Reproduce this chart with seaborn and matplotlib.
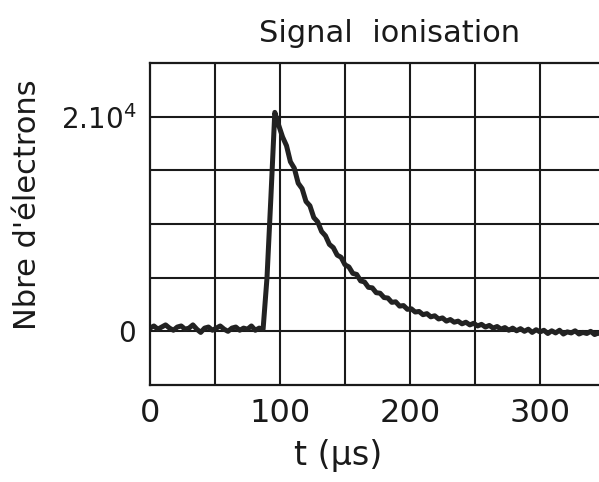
import numpy as np
import pandas as pd
import matplotlib
matplotlib.use("Agg")
import matplotlib.pyplot as plt
import seaborn as sns

# time (µs) and signal (number of electrons)
t_us = [0, 3, 6, 9, 12, 15, 18, 21, 24, 27, 30, 33, 36, 39, 42, 45, 48, 51, 54, 57,
        60, 63, 66, 69, 72, 75, 78, 81, 84, 87, 90, 93, 96, 99, 102, 105, 108, 111, 114, 117,
        120, 123, 126, 129, 132, 135, 138, 141, 144, 147, 150, 153, 156, 159, 162, 165, 168, 171, 174, 177,
        180, 183, 186, 189, 192, 195, 198, 201, 204, 207, 210, 213, 216, 219, 222, 225, 228, 231, 234, 237,
        240, 243, 246, 249, 252, 255, 258, 261, 264, 267, 270, 273, 276, 279, 282, 285, 288, 291, 294, 297,
        300, 303, 306, 309, 312, 315, 318, 321, 324, 327, 330, 333, 336, 339, 342, 345, 348]
electrons = [300, 500, 200, 400, 600, 300, 100, 400, 500, 200, 300, 600, 200, -100, 300, 400, 100, 300, 500, 200,
             0, 300, 400, 100, 300, 200, 500, 100, 300, 200, 5000, 12500, 20400, 19200, 18100, 17300, 15800, 15200, 13800, 13300,
             12100, 11700, 10600, 10200, 9300, 8900, 8100, 7800, 7100, 6900, 6200, 6000, 5400, 5300, 4700, 4600, 4100, 4050, 3600, 3550,
             3150, 3100, 2700, 2750, 2350, 2400, 2050, 2100, 1800, 1850, 1550, 1650, 1350, 1450, 1150, 1250, 950, 1100, 850, 950,
             700, 850, 600, 750, 500, 650, 400, 550, 300, 450, 200, 350, 100, 300, 50, 250, 0, 200, -100, 150,
             -50, 100, -200, 50, -150, 100, -250, -50, -150, 50, -250, -100, -200, 0, -300, -150, -250]

x_ticks = [0, 100, 200, 300]
x_ticklabels = ["0", "100", "200", "300"]
y_ticks = [0, 20000]
y_ticklabels = ["0", r"2.10$^4$"]

sns.set_style("white")
plt.rcParams['font.family'] = ['DejaVu Sans']

fig = plt.figure(figsize=(5.99, 4.82), dpi=100)
ax = fig.add_axes([150/599, 1-385/482, 455/599, 322/482])

df = pd.DataFrame({"t": t_us, "n": electrons})
sns.lineplot(data=df, x="t", y="n", ax=ax, color="#222222", linewidth=3.6)

ax.set_xlim(0, 350)
ax.set_ylim(-5000, 25000)
for xv in np.arange(50, 350, 50):
    ax.axvline(xv, color="#1a1a1a", lw=1.5, zorder=0)
for yv in np.arange(0, 25000, 5000):
    ax.axhline(yv, color="#1a1a1a", lw=1.5, zorder=0)

ax.set_xticks(x_ticks)
ax.set_xticklabels(x_ticklabels, fontsize=23)
ax.set_yticks(y_ticks)
ax.set_yticklabels(y_ticklabels, fontsize=20)
ax.tick_params(axis="x", length=0, pad=9, colors="#1a1a1a")
ax.tick_params(axis="y", length=0, pad=10, colors="#1a1a1a")
for s in ["left", "top", "bottom"]:
    ax.spines[s].set_color("#1a1a1a")
    ax.spines[s].set_linewidth(1.6)
ax.spines["right"].set_visible(False)

ax.set_xlabel("")
ax.set_ylabel("")
fig.text(338/599, 1-455/482, "t (µs)", fontsize=24, ha="center", va="center", color="#1a1a1a")
fig.text(28/599, 1-205/482, "Nbre d'électrons", fontsize=22, rotation=90, ha="center", va="center", color="#1a1a1a")
fig.text(390/599, 1-33/482, "Signal  ionisation", fontsize=22, ha="center", va="center", color="#1a1a1a")

fig.savefig("out.png", dpi=100, facecolor="white")
